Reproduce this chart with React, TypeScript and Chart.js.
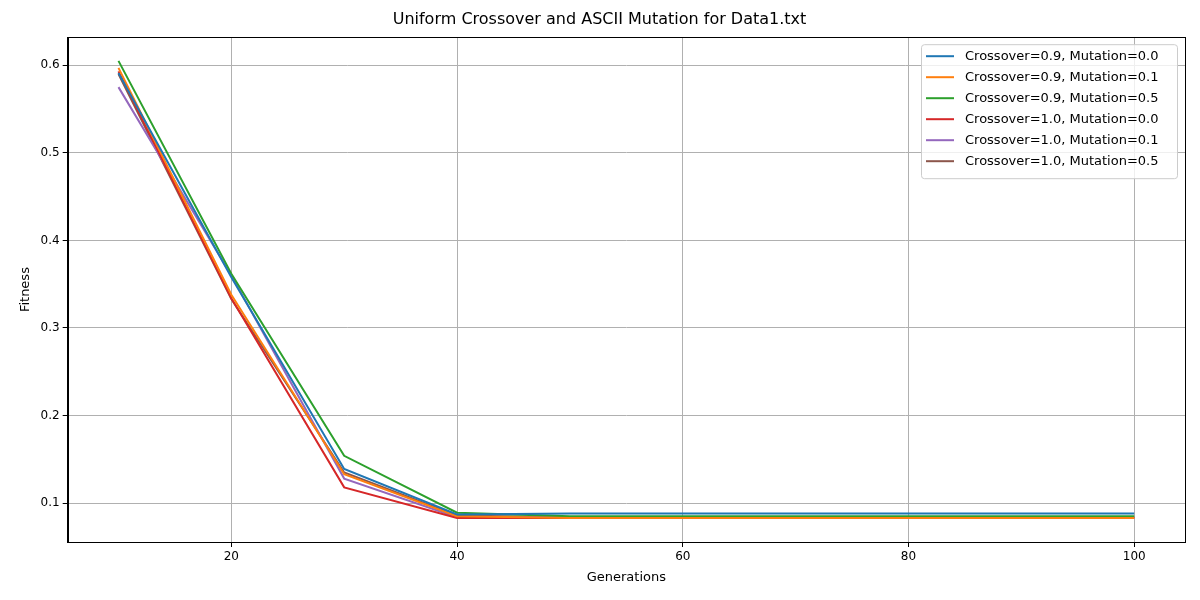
import { useEffect, useRef } from "react";
import { Chart, registerables } from "chart.js";

Chart.register(...registerables);

const generations = [10, 20, 30, 40, 50, 60, 70, 80, 90, 100];
const labels = [
  "Crossover=0.9, Mutation=0.0",
  "Crossover=0.9, Mutation=0.1",
  "Crossover=0.9, Mutation=0.5",
  "Crossover=1.0, Mutation=0.0",
  "Crossover=1.0, Mutation=0.1",
  "Crossover=1.0, Mutation=0.5",
];
const colors = ["#1f77b4", "#ff7f0e", "#2ca02c", "#d62728", "#9467bd", "#8c564b"];
const c09m00 = [0.591, 0.358, 0.139, 0.087, 0.088, 0.088, 0.088, 0.088, 0.088, 0.088];
const c09m01 = [0.597, 0.338, 0.133, 0.085, 0.083, 0.083, 0.083, 0.083, 0.083, 0.083];
const c09m05 = [0.605, 0.362, 0.154, 0.089, 0.085, 0.085, 0.085, 0.085, 0.085, 0.085];
const c10m00 = [0.593, 0.334, 0.118, 0.083, 0.083, 0.083, 0.083, 0.083, 0.083, 0.083];
const c10m01 = [0.575, 0.360, 0.128, 0.084, 0.084, 0.084, 0.084, 0.084, 0.084, 0.084];
const c10m05 = [0.590, 0.333, 0.135, 0.086, 0.084, 0.084, 0.084, 0.084, 0.084, 0.084];
const series = [c09m00, c09m01, c09m05, c10m00, c10m01, c10m05];
const xTicks = [20, 40, 60, 80, 100];
const yTicks = [0.1, 0.2, 0.3, 0.4, 0.5, 0.6];

const font = "'DejaVu Sans', sans-serif";

// matplotlib-style frame plus a boxed legend inside the plot, top right
const frameAndLegend = {
  id: "frameAndLegend",
  afterDraw(chart: Chart) {
    const { ctx, chartArea } = chart;
    ctx.save();
    ctx.strokeStyle = "#000";
    ctx.lineWidth = 1;
    ctx.strokeRect(
      Math.round(chartArea.left) + 0.5,
      Math.round(chartArea.top) + 0.5,
      Math.round(chartArea.right - chartArea.left),
      Math.round(chartArea.bottom - chartArea.top)
    );

    const rowH = 21;
    const w = 256;
    const h = labels.length * rowH + 8;
    const x = chartArea.right - w - 8;
    const y = chartArea.top + 7;
    ctx.fillStyle = "rgba(255,255,255,0.8)";
    ctx.strokeStyle = "#cccccc";
    ctx.beginPath();
    ctx.roundRect(x + 0.5, y + 0.5, w, h, 3);
    ctx.fill();
    ctx.stroke();
    ctx.font = `13px ${font}`;
    ctx.textBaseline = "middle";
    chart.data.datasets.forEach((ds, i) => {
      const cy = y + 12 + i * rowH;
      ctx.strokeStyle = ds.borderColor as string;
      ctx.lineWidth = 2;
      ctx.beginPath();
      ctx.moveTo(x + 5, cy);
      ctx.lineTo(x + 33, cy);
      ctx.stroke();
      ctx.fillStyle = "#000";
      ctx.fillText(ds.label as string, x + 44, cy);
    });
    ctx.restore();
  },
};

export default function App() {
  const canvasRef = useRef<HTMLCanvasElement | null>(null);

  useEffect(() => {
    document.body.style.margin = "0";
    if (!canvasRef.current) return;
    const chart = new Chart(canvasRef.current, {
      type: "line",
      data: {
        datasets: series.map((s, i) => ({
          label: labels[i],
          data: s.map((v, j) => ({ x: generations[j], y: v })),
          borderColor: colors[i],
          backgroundColor: colors[i],
          borderWidth: 2,
          pointRadius: 0,
          tension: 0,
        })),
      },
      options: {
        animation: false,
        responsive: false,
        layout: { padding: { top: 10, right: 15, left: 14, bottom: 11 } },
        plugins: {
          legend: { display: false },
          tooltip: { enabled: false },
          title: {
            display: true,
            text: "Uniform Crossover and ASCII Mutation for Data1.txt",
            color: "#000",
            font: { family: font, size: 16, weight: "normal" },
            padding: { top: 0, bottom: 8 },
          },
        },
        scales: {
          x: {
            type: "linear",
            min: 5.5,
            max: 104.5,
            afterBuildTicks: (axis) => {
              axis.ticks = xTicks.map((v) => ({ value: v }));
            },
            grid: { color: "#b0b0b0", tickLength: 5, tickColor: "#000" },
            border: { color: "#000" },
            ticks: { color: "#000", font: { family: font, size: 12 } },
            title: { display: true, text: "Generations", color: "#000", font: { family: font, size: 13 }, padding: { top: 2 } },
          },
          y: {
            min: 0.0556,
            max: 0.632,
            afterBuildTicks: (axis) => {
              axis.ticks = yTicks.map((v) => ({ value: v }));
            },
            grid: { color: "#b0b0b0", tickLength: 5, tickColor: "#000" },
            border: { color: "#000" },
            ticks: { color: "#000", font: { family: font, size: 12 }, callback: (v) => Number(v).toFixed(1) },
            title: { display: true, text: "Fitness", color: "#000", font: { family: font, size: 13 } },
          },
        },
      },
      plugins: [frameAndLegend],
    });
    return () => chart.destroy();
  }, []);

  return <canvas ref={canvasRef} width={1200} height={600} style={{ display: "block" }} />;
}
